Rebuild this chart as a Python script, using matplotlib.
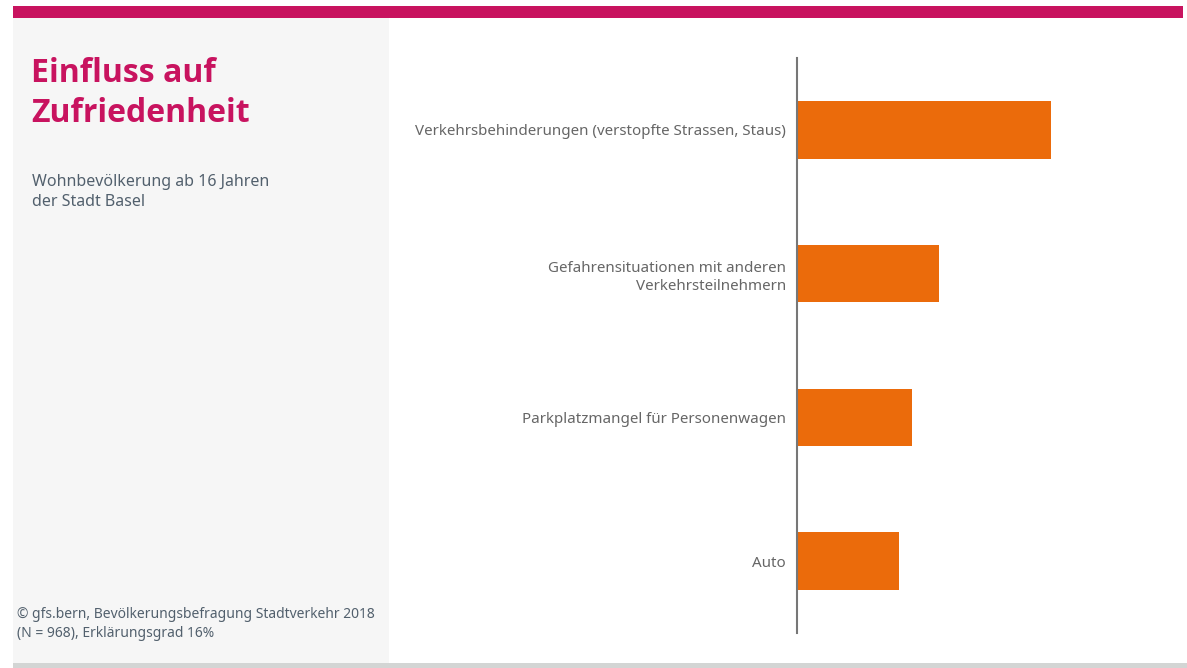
import matplotlib
matplotlib.use("Agg")
import matplotlib.pyplot as plt
from matplotlib.patches import Rectangle

plt.rcParams['font.family'] = ['Noto Sans', 'DejaVu Sans']

categories = [
    "Verkehrsbehinderungen (verstopfte Strassen, Staus)",
    "Gefahrensituationen mit anderen\nVerkehrsteilnehmern",
    "Parkplatzmangel für Personenwagen",
    "Auto",
]
values = [25.4, 14.2, 11.5, 10.2]

title_lines = ["Einfluss auf", "Zufriedenheit"]
subtitle = "Wohnbevölkerung ab 16 Jahren\nder Stadt Basel"
footer = "© gfs.bern, Bevölkerungsbefragung Stadtverkehr 2018\n(N = 968), Erklärungsgrad 16%"

W, H = 1187, 668
fig = plt.figure(figsize=(W / 100, H / 100), dpi=100)
fig.patch.set_facecolor("white")

# background pieces (figure pixel coords -> fraction)
def px_rect(x0, y0, x1, y1, color):
    fig.add_artist(Rectangle((x0 / W, 1 - y1 / H), (x1 - x0) / W, (y1 - y0) / H,
                             transform=fig.transFigure, color=color, lw=0, zorder=0))

px_rect(13, 18, 389, 664, "#f6f6f6")
px_rect(13, 6, 1183, 18, "#c8135f")
px_rect(13, 663, 1187, 668, "#d3d5d4")

for i, line in enumerate(title_lines):
    fig.text(31 / W, 1 - (82 + 40 * i) / H, line, color="#c8135f", fontsize=23,
             fontweight="bold", family=["Open Sans", "DejaVu Sans"],
             va="baseline", ha="left")
fig.text(32 / W, 1 - 174 / H, subtitle, color="#52606d", fontsize=11.5,
         va="top", ha="left", linespacing=1.3)
fig.text(17 / W, 1 - 607 / H, footer, color="#52606d", fontsize=10,
         va="top", ha="left", linespacing=1.35)

ax = fig.add_axes([797 / W, 35 / H, 350 / W, 575 / H])
ax.set_facecolor("none")
pos = list(range(len(categories)))
ax.barh(pos, values, height=0.4, color="#eb6b0b", zorder=2)
ax.set_xlim(0, 35)
ax.set_ylim(len(categories) - 0.5, -0.5)
ax.set_yticks(pos)
ax.set_yticklabels(categories, color="#666666", fontsize=10.9, linespacing=1.35, ha="right")
ax.tick_params(axis="y", length=0, pad=8)
ax.set_xticks([])
for s in ["top", "right", "bottom"]:
    ax.spines[s].set_visible(False)
ax.spines["left"].set_color("#777777")
ax.spines["left"].set_linewidth(1.5)
ax.spines["left"].set_zorder(3)

fig.savefig("out.png", dpi=100)
